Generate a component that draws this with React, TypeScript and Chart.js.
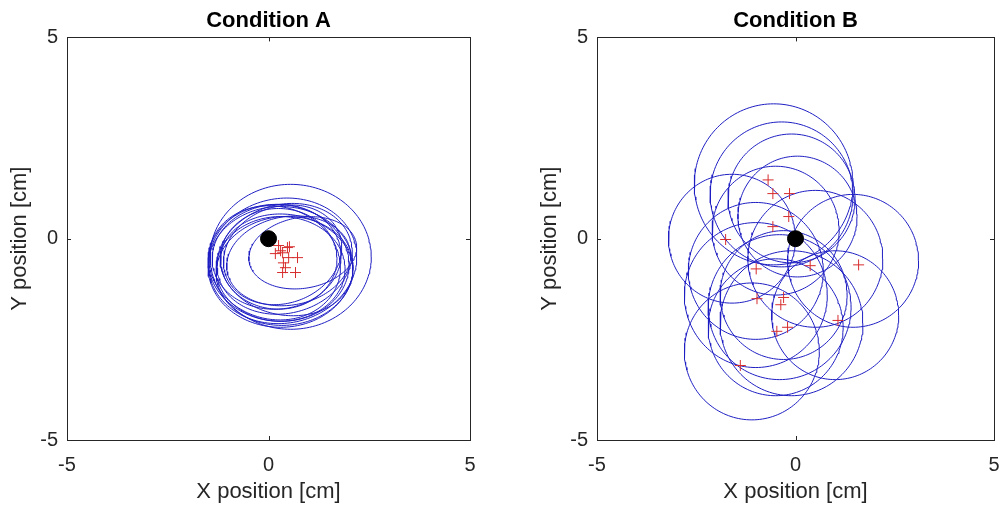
import React, { useEffect, useRef } from 'react';
import { Chart, registerables } from 'chart.js';

Chart.register(...registerables);

// ---------- data ----------
const AXIS_MIN = -5;
const AXIS_MAX = 5;
const AXIS_TICKS = [-5, 0, 5];
const titles = ['Condition A', 'Condition B'];
const xLabel = 'X position [cm]';
const yLabel = 'Y position [cm]';

const targetX = [0];
const targetY = [0];

// Condition A: end points (red crosses)
const crossesAX = [0.25, 0.47, 0.52, 0.17, 0.35, 0.3, 0.5, 0.72, 0.37, 0.42, 0.35, 0.67];
const crossesAY = [-0.17, -0.22, -0.2, -0.37, -0.35, -0.3, -0.47, -0.47, -0.6, -0.72, -0.84, -0.84];

// Condition A: ellipses [cx, cy, rx, ry, angleDeg]
const ellipsesA = [
  [0.55, -0.45, 2.0, 1.8, 0],
  [0.35, -0.55, 1.85, 1.55, 10],
  [0.25, -0.6, 1.75, 1.45, -5],
  [0.3, -0.7, 1.8, 1.5, 0],
  [0.4, -0.5, 1.7, 1.35, 15],
  [0.2, -0.45, 1.6, 1.3, 5],
  [0.45, -0.65, 1.65, 1.25, -10],
  [0.35, -0.4, 1.5, 1.2, 20],
  [0.5, -0.55, 1.55, 1.1, 10],
  [0.3, -0.75, 1.6, 1.3, 0],
  [0.85, -0.35, 1.35, 0.88, 10],
  [0.15, -0.6, 1.65, 1.4, -15],
  [0.4, -0.8, 1.7, 1.35, 5],
  [0.25, -0.5, 1.45, 1.25, 0],
];

// Condition B: end points (red crosses)
const crossesBX = [-0.69, -0.57, -0.15, -0.17, -0.57, -1.76, -0.99, 0.37, 1.59, -0.97, -0.3, -0.37, -0.47, -0.2, 1.07, -1.39];
const crossesBY = [1.46, 1.12, 1.12, 0.55, 0.3, -0.02, -0.75, -0.67, -0.65, -1.49, -1.46, -1.64, -2.3, -2.2, -2.03, -3.15];

// Condition B: circles [cx, cy, r]
const circlesB = [
  [-0.55, 1.35, 2.0],
  [-0.35, 1.1, 1.8],
  [-0.1, 1.0, 1.6],
  [0.05, 0.55, 1.5],
  [-0.5, 0.2, 1.6],
  [-1.6, 0.0, 1.6],
  [-1.0, -0.8, 1.7],
  [0.5, -0.5, 1.7],
  [1.45, -0.55, 1.65],
  [-1.0, -1.4, 1.8],
  [-0.3, -1.4, 1.6],
  [-0.4, -1.7, 1.8],
  [-0.5, -2.2, 1.7],
  [-0.1, -2.1, 1.8],
  [1.0, -1.9, 1.6],
  [-1.1, -2.8, 1.7],
];

// ---------- styles ----------
const FONT = '"Liberation Sans", Arial, sans-serif';
const AXIS_COLOR = 'rgb(38,38,38)';
const BLUE = 'rgb(30,30,195)';
const RED = 'rgb(215,45,45)';

function ellipsePoints(cx: number, cy: number, rx: number, ry: number, angDeg: number) {
  const pts: { x: number; y: number }[] = [];
  const a = (angDeg * Math.PI) / 180;
  const n = 160;
  for (let i = 0; i <= n; i++) {
    const t = (i / n) * 2 * Math.PI;
    const ex = rx * Math.cos(t);
    const ey = ry * Math.sin(t);
    pts.push({ x: cx + ex * Math.cos(a) - ey * Math.sin(a), y: cy + ex * Math.sin(a) + ey * Math.cos(a) });
  }
  return pts;
}

const boxPlugin = {
  id: 'matlabBox',
  afterDatasetsDraw(chart: any) {
    const { ctx, chartArea } = chart;
    const { left, right, top, bottom } = chartArea;
    const xs = chart.scales.x;
    const ys = chart.scales.y;
    ctx.save();
    ctx.strokeStyle = AXIS_COLOR;
    ctx.lineWidth = 1;
    ctx.strokeRect(Math.round(left) + 0.5, Math.round(top) + 0.5, Math.round(right - left), Math.round(bottom - top));
    const tl = 4;
    ctx.beginPath();
    AXIS_TICKS.forEach((v) => {
      const px = Math.round(xs.getPixelForValue(v)) + 0.5;
      ctx.moveTo(px, bottom);
      ctx.lineTo(px, bottom - tl);
      ctx.moveTo(px, top);
      ctx.lineTo(px, top + tl);
      const py = Math.round(ys.getPixelForValue(v)) + 0.5;
      ctx.moveTo(left, py);
      ctx.lineTo(left + tl, py);
      ctx.moveTo(right, py);
      ctx.lineTo(right - tl, py);
    });
    ctx.stroke();
    ctx.restore();
  },
};

type PanelProps = {
  title: string;
  crossX: number[];
  crossY: number[];
  shapes: { x: number; y: number }[][];
  width: number;
  rightPad: number;
  left: number;
};

function Panel({ title, crossX, crossY, shapes, width, rightPad, left }: PanelProps) {
  const ref = useRef<HTMLCanvasElement>(null);
  useEffect(() => {
    if (!ref.current) return;
    const datasets: any[] = [
      {
        label: 'target',
        data: targetX.map((x, i) => ({ x, y: targetY[i] })),
        pointRadius: 8,
        pointHoverRadius: 8,
        backgroundColor: '#000',
        borderColor: '#000',
        pointBackgroundColor: '#000',
        pointBorderColor: '#000',
        showLine: false,
      },
      {
        label: 'end points',
        data: crossX.map((x, i) => ({ x, y: crossY[i] })),
        pointStyle: 'cross',
        pointRadius: 5.5,
        pointHoverRadius: 5.5,
        backgroundColor: RED,
        borderColor: RED,
        pointBackgroundColor: RED,
        pointBorderColor: RED,
        pointBorderWidth: 1,
        pointHoverBorderColor: RED,
        showLine: false,
      },
      ...shapes.map((pts, i) => ({
        label: 'shape' + i,
        data: pts,
        showLine: true,
        pointRadius: 0,
        pointHoverRadius: 0,
        borderColor: BLUE,
        backgroundColor: BLUE,
        borderWidth: 1,
        fill: false,
        tension: 0,
      })),
    ];
    const tickFont = { family: FONT, size: 20 };
    const chart = new Chart(ref.current, {
      type: 'scatter',
      data: { datasets },
      plugins: [boxPlugin],
      options: {
        animation: false,
        responsive: false,
        events: [],
        layout: { padding: { left: 0, right: rightPad, top: 0, bottom: 0 } },
        plugins: {
          colors: { enabled: false },
          legend: { display: false },
          tooltip: { enabled: false },
          title: {
            display: true,
            text: title,
            fullSize: false,
            color: '#000',
            font: { family: FONT, size: 22, weight: 'bold' },
            padding: { top: 8, bottom: 3 },
          },
        },
        scales: {
          x: {
            type: 'linear',
            min: AXIS_MIN,
            max: AXIS_MAX,
            grid: { display: false, drawTicks: false },
            border: { display: false },
            afterBuildTicks: (s: any) => {
              s.ticks = AXIS_TICKS.map((v) => ({ value: v }));
            },
            afterFit: (s: any) => {
              s.height = 66;
              s.paddingLeft = 0;
              s.paddingRight = 0;
            },
            ticks: { color: AXIS_COLOR, font: tickFont, padding: 13, maxRotation: 0, autoSkip: false },
            title: {
              display: true,
              text: xLabel,
              color: AXIS_COLOR,
              font: { family: FONT, size: 22 },
              padding: { top: 0, bottom: 1 },
            },
          },
          y: {
            type: 'linear',
            min: AXIS_MIN,
            max: AXIS_MAX,
            grid: { display: false, drawTicks: false },
            border: { display: false },
            afterBuildTicks: (s: any) => {
              s.ticks = AXIS_TICKS.map((v) => ({ value: v }));
            },
            afterFit: (s: any) => {
              s.width = 67;
              s.paddingTop = 0;
              s.paddingBottom = 0;
            },
            ticks: { color: AXIS_COLOR, font: tickFont, padding: 9, autoSkip: false },
            title: {
              display: true,
              text: yLabel,
              color: AXIS_COLOR,
              font: { family: FONT, size: 22 },
              padding: { top: 7, bottom: 0 },
            },
          },
        },
      } as any,
    });
    return () => chart.destroy();
  }, []);
  return (
    <canvas
      ref={ref}
      width={width}
      height={506}
      style={{ position: 'absolute', left, top: 0, width, height: 506 }}
    />
  );
}

export default function App() {
  const shapesA = ellipsesA.map(([cx, cy, rx, ry, a]) => ellipsePoints(cx, cy, rx, ry, a));
  const shapesB = circlesB.map(([cx, cy, r]) => ellipsePoints(cx, cy, r, r, 0));
  return (
    <div style={{ position: 'fixed', left: 0, top: 0, width: 1003, height: 506, background: '#fff', overflow: 'hidden' }}>
      <Panel title={titles[0]} crossX={crossesAX} crossY={crossesAY} shapes={shapesA} width={500} rightPad={30} left={0} />
      <Panel title={titles[1]} crossX={crossesBX} crossY={crossesBY} shapes={shapesB} width={473} rightPad={4} left={530} />
    </div>
  );
}
